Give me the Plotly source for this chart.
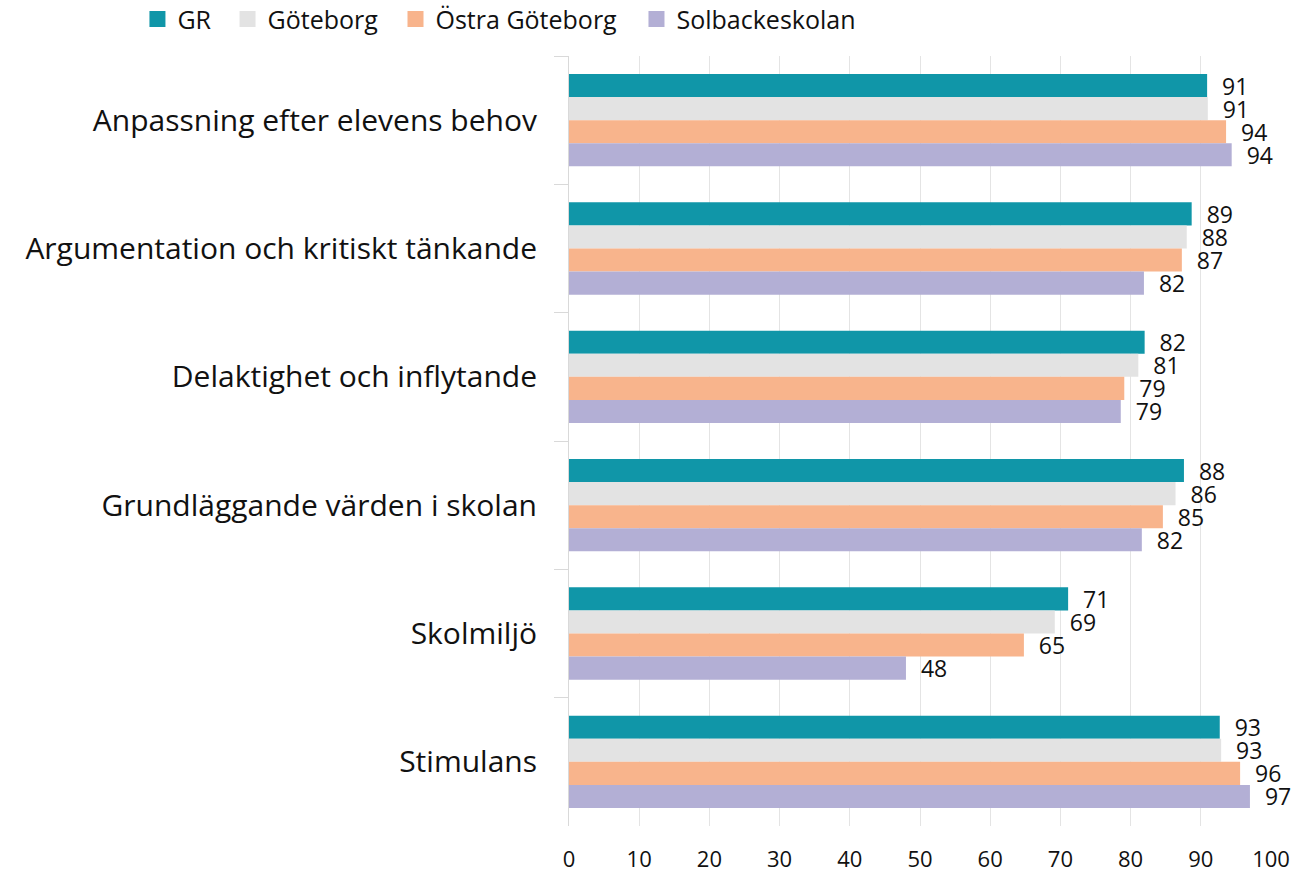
import plotly.graph_objects as go

categories = [
    "Anpassning efter elevens behov",
    "Argumentation och kritiskt tänkande",
    "Delaktighet och inflytande",
    "Grundläggande värden i skolan",
    "Skolmiljö",
    "Stimulans",
]
series_names = ["GR", "Göteborg", "Östra Göteborg", "Solbackeskolan"]
gr = [90.9, 88.7, 82.0, 87.6, 71.1, 92.7]
goteborg = [91.0, 88.0, 81.1, 86.4, 69.2, 92.9]
ostra = [93.6, 87.3, 79.1, 84.6, 64.8, 95.6]
solbacke = [94.4, 81.9, 78.6, 81.6, 48.0, 97.0]
x_ticks = [0, 10, 20, 30, 40, 50, 60, 70, 80, 90, 100]

colors = ["#1096A8", "#E3E3E3", "#F8B48C", "#B3AFD5"]
legend_x = [0.1054, 0.1745, 0.3033, 0.4881]
font_family = "Open Sans"
text_color = "#111111"

fig = go.Figure()
for name, vals, col in zip(series_names, [gr, goteborg, ostra, solbacke], colors):
    fig.add_trace(go.Bar(
        name=name,
        y=categories,
        x=vals,
        orientation="h",
        marker=dict(color=col, line=dict(width=0)),
        texttemplate="  %{x:.0f}",
        textposition="outside",
        outsidetextfont=dict(size=23, color=text_color, family=font_family),
        constraintext="none",
        cliponaxis=False,
        showlegend=False,
        hoverinfo="x+name",
    ))

# legend entries (one legend box per series) with larger square swatches
legend_layout = {}
for i, (name, col, lx) in enumerate(zip(series_names, colors, legend_x)):
    key = "legend" if i == 0 else f"legend{i + 1}"
    fig.add_trace(go.Scatter(
        name=name,
        x=[None],
        y=[None],
        mode="markers",
        marker=dict(symbol="square", size=16, color=col),
        showlegend=True,
        legend=key,
        hoverinfo="skip",
    ))
    legend_layout[key] = dict(
        orientation="h",
        xref="container",
        yref="container",
        x=lx,
        y=0.978,
        xanchor="left",
        yanchor="middle",
        font=dict(size=25, color=text_color, family=font_family),
        itemwidth=30,
        bgcolor="rgba(0,0,0,0)",
    )

fig.update_layout(
    width=1304,
    height=873,
    barmode="group",
    bargap=0.28,
    bargroupgap=0,
    plot_bgcolor="white",
    paper_bgcolor="white",
    margin=dict(l=569, r=33, t=56, b=47),
    font=dict(family=font_family, color=text_color),
    showlegend=True,
    **legend_layout,
)
fig.update_xaxes(
    range=[0, 100],
    tickvals=x_ticks,
    ticktext=[str(v) for v in x_ticks],
    showgrid=True,
    gridcolor="#E4E4E4",
    gridwidth=1,
    zeroline=False,
    showline=False,
    ticks="outside",
    ticklen=14,
    tickcolor="rgba(0,0,0,0)",
    tickfont=dict(size=22, color=text_color),
    automargin=False,
)
fig.update_yaxes(
    autorange="reversed",
    showgrid=False,
    showline=True,
    linecolor="#D9D9D9",
    linewidth=1,
    ticks="outside",
    tickson="boundaries",
    ticklen=14,
    tickcolor="#D9D9D9",
    ticklabelstandoff=25,
    tickfont=dict(size=30, color=text_color),
    automargin=False,
)

fig.write_html(
    "out.html",
    config={"displayModeBar": False},
    post_script="document.body.style.margin='0';",
)
